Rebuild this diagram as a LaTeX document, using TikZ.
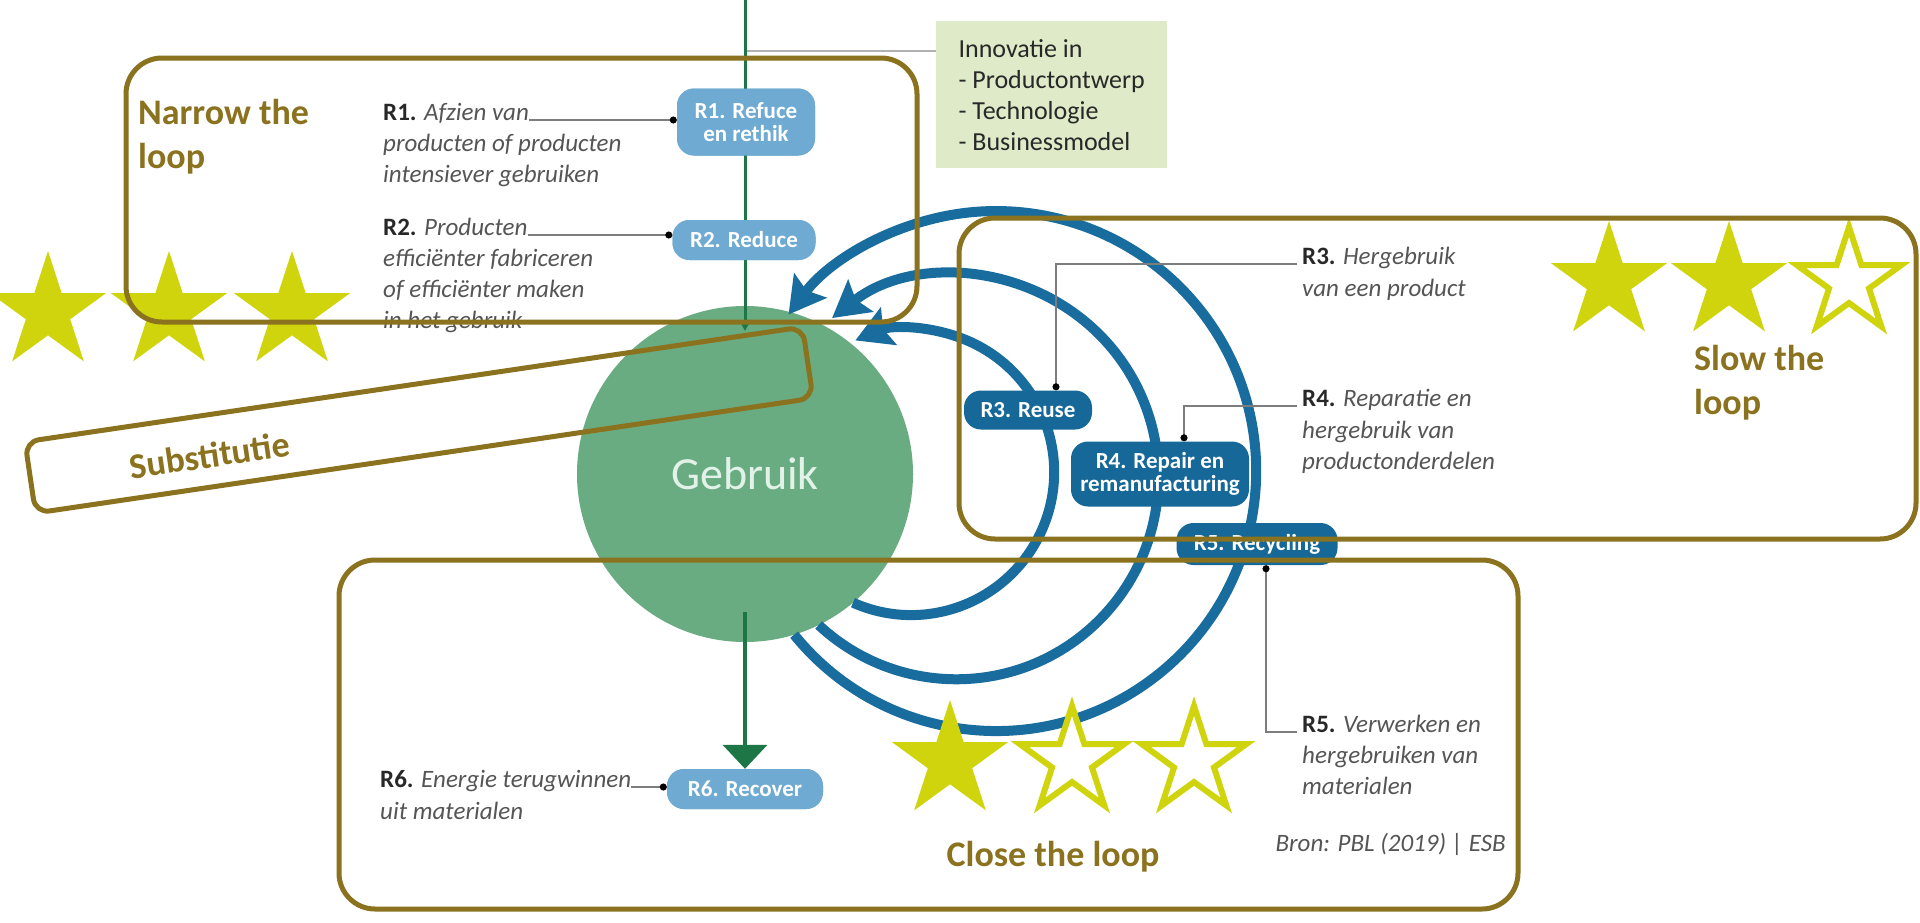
\documentclass[tikz,border=0pt]{standalone}
\usepackage{fontspec}
\setmainfont{Carlito}
\usetikzlibrary{arrows.meta,shapes.geometric,positioning}

\definecolor{loopolive}{RGB}{138,114,30}
\definecolor{staryellow}{RGB}{208,212,12}
\definecolor{usegreen}{RGB}{106,172,130}
\definecolor{usetext}{RGB}{226,242,232}
\definecolor{flowgreen}{RGB}{28,118,70}
\definecolor{pilllight}{RGB}{110,170,210}
\definecolor{pilldark}{RGB}{22,104,152}
\definecolor{loopblue}{RGB}{24,108,158}
\definecolor{innovgreen}{RGB}{222,234,200}
\definecolor{txtgray}{RGB}{85,85,85}
\definecolor{txtdark}{RGB}{40,40,40}
\definecolor{leadergray}{RGB}{125,125,125}

\newcommand{\rcode}[1]{{\upshape\bfseries\color{txtdark}#1}}

\tikzset{
  loopframe/.style={draw=loopolive, line width=5pt, rounded corners=36pt, inner sep=0pt, outer sep=0pt},
  looplabel/.style={text=loopolive, font=\fontsize{36}{44}\selectfont\bfseries, align=left, inner sep=0pt},
  rtext/.style={text=txtgray, font=\fontsize{25}{31}\selectfont\itshape, align=left, inner sep=0pt},
  pill/.style={rounded corners=17pt, text=white, font=\fontsize{23}{23}\selectfont\bfseries, align=center, inner sep=0pt},
  lightpill/.style={pill, fill=pilllight},
  darkpill/.style={pill, fill=pilldark},
  leader/.style={draw=leadergray, line width=1.6pt, -{Circle[length=7pt,color=black]}},
  tapline/.style={draw=leadergray!60, line width=1.6pt},
  loopline/.style={draw=loopblue, line width=10pt, -{Stealth[length=36pt,width=40pt,inset=6pt]}},
  flowline/.style={draw=flowgreen, line width=3pt},
  fullstar/.style={star, star points=5, star point ratio=2.618, fill=staryellow, minimum size=122pt, inner sep=0pt},
  openstar/.style={fullstar, fill=white, draw=staryellow, line width=6pt, minimum size=110pt},
}

\begin{document}
\begin{tikzpicture}[x=1pt,y=1pt]
  \useasboundingbox[fill=white] (0,0) rectangle (1920,-922);

  \node[fill=innovgreen, anchor=north west, minimum width=231pt, minimum height=147pt, inner sep=0pt,
        text=txtdark, font=\fontsize{26}{31}\selectfont, align=left] (innov) at (936,-21)
       {Innovatie in\\- Productontwerp\\- Technologie\\- Businessmodel};
  \coordinate (tap) at (745,-51);
  \coordinate (srctop) at (745,0);
  \draw[tapline] (tap) -- (tap -| innov.west);

  \node[circle, fill=usegreen, minimum size=336pt, inner sep=0pt, outer sep=0pt,
        text=usetext, font=\fontsize{46}{46}\selectfont] (gebruik) at (745,-474) {Gebruik};

  \node[lightpill, minimum width=138pt, minimum height=67pt] (refuse) at (746,-122) {R1. Refuce\\en rethik};
  \node[lightpill, minimum width=143pt, minimum height=40pt] (reduce) at (744,-240) {R2. Reduce};
  \node[lightpill, minimum width=156pt, minimum height=40pt] (recover) at (745,-789) {R6. Recover};

  \draw[flowline, -{Triangle[length=9pt,width=9pt]}] (srctop) -- ([yshift=-25pt]gebruik.north);
  \draw[flowline, line width=4pt, -{Triangle[length=24pt,width=44pt]}] ([yshift=30pt]gebruik.south) -- (recover.north);

  \draw[loopline] (gebruik.-50) arc[start angle=246, end angle=473, radius=143pt];
  \draw[loopline] (gebruik.-64) arc[start angle=227, end angle=488, radius=202pt];
  \draw[loopline] (gebruik.-73) arc[start angle=219, end angle=503, radius=260pt];

  \node[lightpill, minimum width=138pt, minimum height=67pt] at (refuse) {R1. Refuce\\en rethik};
  \node[lightpill, minimum width=143pt, minimum height=40pt] at (reduce) {R2. Reduce};
  \node[lightpill, minimum width=156pt, minimum height=40pt] at (recover) {R6. Recover};
  \node[darkpill, minimum width=128pt, minimum height=39pt] (reuse) at (1028,-410) {R3. Reuse};
  \node[darkpill, minimum width=178pt, minimum height=65pt] (repair) at (1160,-474) {R4. Repair en\\remanufacturing};
  \node[darkpill, minimum width=161pt, minimum height=42pt] (recycle) at (1257,-544) {R5. Recycling};

  \node[rtext, anchor=base west] (r1head) at (383,-120) {\rcode{R1.} Afzien van};
  \node[rtext, anchor=base west] (r1body) at (383,-182) {producten of producten\\intensiever gebruiken};
  \node[rtext, anchor=base west] (r2head) at (383,-235) {\rcode{R2.} Producten};
  \node[rtext, anchor=base west] (r2body) at (383,-328) {efficiënter fabriceren\\of efficiënter maken\\in het gebruik};
  \node[rtext, anchor=base west] (r3head) at (1302,-264) {\rcode{R3.} Hergebruik};
  \node[rtext, anchor=base west] (r3body) at (1302,-296) {van een product};
  \node[rtext, anchor=base west] (r4head) at (1302,-406) {\rcode{R4.} Reparatie en};
  \node[rtext, anchor=base west] (r4body) at (1302,-469) {hergebruik van\\productonderdelen};
  \node[rtext, anchor=base west] (r5head) at (1302,-732) {\rcode{R5.} Verwerken en};
  \node[rtext, anchor=base west] (r5body) at (1302,-794) {hergebruiken van\\materialen};
  \node[rtext, anchor=base west] (r6head) at (380,-787) {\rcode{R6.} Energie terugwinnen};
  \node[rtext, anchor=base west] (r6body) at (380,-819) {uit materialen};
  \node[rtext, anchor=base east] (bron) at (1506,-851) {Bron: PBL (2019) | ESB};

  \draw[leader] (r1head.base east) -- (r1head.base east -| refuse.west);
  \draw[leader] (r2head.base east) -- (r2head.base east -| reduce.west);
  \draw[leader] ([xshift=-5pt]r3head.base west) -| ([xshift=28pt]reuse.north);
  \draw[leader] ([xshift=-5pt]r4head.base west) -| ([xshift=24pt]repair.north);
  \draw[leader, {Circle[length=7pt,color=black]}-] ([xshift=9pt]recycle.south) |- ([xshift=-5pt]r5head.base west);
  \draw[leader] (r6head.base east) -- (r6head.base east -| recover.west);

  \foreach \sx [count=\i] in {48,169,292}
    \node[fullstar] (nstar\i) at (\sx,-312) {};
  \node[fullstar] (sstar1) at (1609,-282) {};
  \node[fullstar] (sstar2) at (1729,-282) {};
  \node[openstar] (sstar3) at (1849,-282) {};
  \node[fullstar] (cstar1) at (950,-761) {};
  \node[openstar] (cstar2) at (1072,-761) {};
  \node[openstar] (cstar3) at (1194,-761) {};

  \node[loopframe, anchor=north west, minimum width=791pt, minimum height=264pt] (narrow) at (126,-58) {};
  \node[loopframe, anchor=north west, minimum width=957pt, minimum height=321pt] (slow) at (959,-218) {};
  \node[loopframe, anchor=north west, minimum width=1179pt, minimum height=349pt] (close) at (339,-560) {};
  \node[loopframe, rotate=8.4, rounded corners=14pt, minimum width=786pt, minimum height=72pt] (subst) at (419,-420) {};

  \node[looplabel, anchor=base west] (narrowtxt) at (138,-168) {Narrow the\\loop};
  \node[looplabel, anchor=base west] (slowtxt) at (1694,-414) {Slow the\\loop};
  \node[looplabel] (closetxt) at (1053,-857) {Close the loop};
  \node[looplabel, rotate=8.4] (substtxt) at (210,-455) {Substitutie};
\end{tikzpicture}
\end{document}
